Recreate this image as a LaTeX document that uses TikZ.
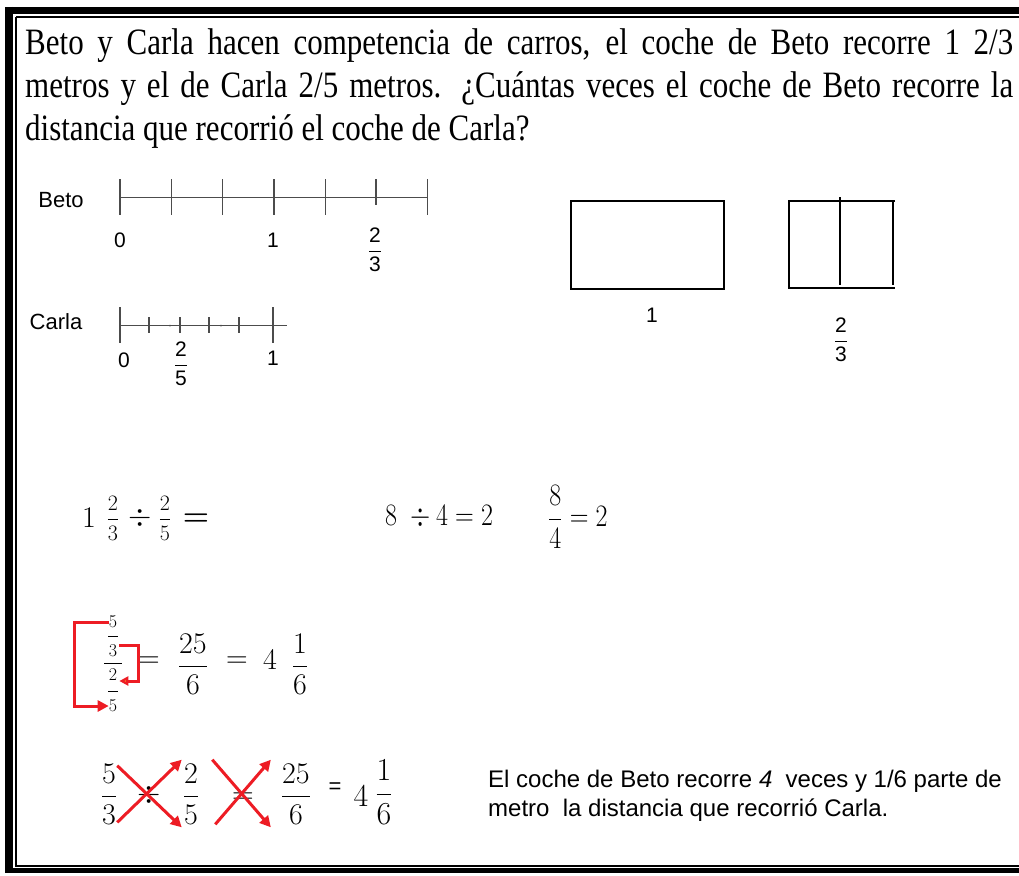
\documentclass[tikz,border=0pt]{standalone}
\usepackage{fix-cm}
\usepackage{amsmath}
\usepackage{fontspec}
\setmainfont{Liberation Serif}
\setsansfont{Liberation Sans}
\usetikzlibrary{arrows.meta}
\definecolor{penred}{RGB}{237,28,36}
\definecolor{penorange}{RGB}{247,148,30}
\newcommand{\vstretch}[1]{\scalebox{1}[1.2]{#1}}
\tikzset{
  titleline/.style={anchor=base west, inner sep=0pt, font=\fontsize{31}{36}\selectfont},
  lbl/.style={inner sep=0pt, font=\sffamily\fontsize{22}{26}\selectfont},
  num/.style={inner sep=0pt, font=\sffamily\fontsize{21}{24}\selectfont},
  eq/.style={inner sep=0pt, font=\fontsize{26}{30}\selectfont},
  big/.style={inner sep=0pt, font=\fontsize{30}{34}\selectfont},
  mid/.style={inner sep=0pt, font=\fontsize{22}{26}\selectfont},
  small/.style={inner sep=0pt, font=\fontsize{18}{20}\selectfont},
  redpen/.style={penred, line width=3pt, -{Triangle[length=11pt,width=11pt]}},
}
\begin{document}
\begin{tikzpicture}[x=1pt,y=-1pt]
  \useasboundingbox (0,0) rectangle (1019,875);

  % frame
  \draw[line width=7pt] (5,10.5) -- (1019,10.5);
  \draw[line width=8pt] (9,7) -- (9,873);
  \draw[line width=2pt] (16,17.5) -- (1019,17.5);
  \draw[line width=2pt] (16,17.5) -- (16,865.5) -- (1019,865.5);
  \draw[line width=5pt] (5,870.5) -- (1019,870.5);

  % problem
  \node[titleline] (l1) at (25,55) {\vstretch{\makebox[988pt][s]{Beto y Carla hacen competencia de carros, el coche de Beto recorre 1 2/3}}};
  \node[titleline] (l2) at (25,97) {\vstretch{\makebox[988pt][s]{metros y el de Carla 2/5 metros. ¿Cuántas veces el coche de Beto recorre la}}};
  \node[titleline] (l3) at (25,140) {\vstretch{distancia que recorrió el coche de Carla?}};

  % number lines
  \node[lbl] (beto) at (61,200) {Beto};
  \draw[gray!60!black, line width=1pt] (120,197) -- (428,197);
  \foreach \k in {0,...,4,6}
    \draw[gray!60!black, line width=1.3pt] (120+51.3*\k,179) -- ++(0,36);
  \draw[gray!60!black, line width=1.3pt] (376,179) -- (376,205);
  \node[num] (b0) at (120,240) {0};
  \node[num] (b1) at (273,240) {1};
  \node[num] (b23) at (375,250) {$\dfrac{\textsf{2}}{\textsf{3}}$};

  \node[lbl] (carla) at (56,322) {Carla};
  \draw[gray!60!black, line width=1pt] (120,325) -- (287,325);
  \foreach \x in {120,273}
    \draw[gray!60!black, line width=1.3pt] (\x,307) -- (\x,343);
  \foreach \x in {149,180,209,239}
    \draw[gray!60!black, line width=1.2pt] (\x,317) -- (\x,333);
  \foreach \x in {170,221}
    \fill[gray!60!black] (\x,325.5) circle (1pt);
  \node[num] (c0) at (124,360) {0};
  \node[num] (c25) at (181,364) {$\dfrac{\textsf{2}}{\textsf{5}}$};
  \node[num] (c1) at (273,358) {1};

  % unit and two thirds
  \draw[line width=1.6pt] (571,201) rectangle (724,289);
  \node[num] (one) at (652,315) {1};
  \draw[line width=1.6pt] (895,201) -- (789,201) -- (789,288) -- (895,288);
  \draw[line width=1.6pt] (840,197) -- (840,285);
  \draw[line width=1.6pt] (893,201) -- (893,285);
  \node[num] (two3) at (841,340) {$\dfrac{\textsf{2}}{\textsf{3}}$};

  % division
  \node[big] (da1) at (89,518) {$1$};
  \node[mid] (da23) at (113,518) {$\dfrac{2}{3}$};
  \node[big] (dadiv) at (140,518) {$\div$};
  \node[mid] (da25) at (165,518) {$\dfrac{2}{5}$};
  \node[big] (daeq) at (196,520) {$\boldsymbol{=}$};
  \node[eq, anchor=west] (divB) at (385,517) {\vstretch{$8\;\div 4 = 2$}};
  \node[eq, anchor=west] (divC) at (548,517) {\vstretch{$\dfrac{8}{4} = 2$}};

  % complex fraction
  \node[small] (n5) at (113,622) {$5$};
  \node[small] (n3) at (113,651) {$3$};
  \node[small] (d2) at (113,675) {$2$};
  \node[small] (d5) at (113,706) {$5$};
  \draw[line width=1pt] (108,636) -- (118,636);
  \draw[line width=1pt] (104,663) -- (122,663);
  \draw[line width=1pt] (108,691) -- (118,691);
  \node[big] (eqA) at (149,662) {$=$};
  \node[big] (r256) at (193,664) {$\dfrac{25}{6}$};
  \node[big] (eqA2) at (237,662) {$=$};
  \node[big] (r4) at (270,660) {$4$};
  \node[big] (r16) at (300,664) {$\dfrac{1}{6}$};
  \draw[redpen] (n5.west) -- ++(-34,0) |- (d5.west);
  \draw[redpen, -{Triangle[length=9pt,width=9pt,fill=penorange]}] ([xshift=2pt]n3.north east) -- ++(19,0) |- ([xshift=2pt]d2.south east);

  % cross multiplication
  \node[big] (f53) at (109,794) {$\dfrac{5}{3}$};
  \node[big] (dv) at (149,795) {$\div$};
  \node[big] (f25) at (191,794) {$\dfrac{2}{5}$};
  \node[big] (eqB) at (243,798) {$=$};
  \node[big] (f256) at (296,794) {$\dfrac{25}{6}$};
  \node[lbl] (eqC) at (335,788) {=};
  \node[big, font=\fontsize{32}{36}\selectfont] (m4) at (361,796) {$4$};
  \node[big, font=\fontsize{32}{36}\selectfont] (m16) at (384,792) {$\dfrac{1}{6}$};
  \draw[redpen] ([yshift=-2pt]f53.north east) -- ([xshift=-1pt,yshift=-3pt]f25.south west);
  \draw[redpen] ([yshift=2pt]f53.south east) -- ([xshift=-1pt,yshift=4pt]f25.north west);
  \draw[redpen] ([xshift=13pt,yshift=4pt]f25.north east) -- ([xshift=-10pt,yshift=-3pt]f256.south west);
  \draw[redpen] ([xshift=16pt,yshift=0pt]f25.south east) -- ([xshift=-10pt,yshift=4pt]f256.north west);

  \node[lbl, anchor=north west, align=left, font=\sffamily\fontsize{24}{29}\selectfont] (answer) at (488,770)
    {El coche de Beto recorre \textit{4}\ \ veces y 1/6 parte de\\metro\ \ la distancia que recorrió Carla.};
\end{tikzpicture}
\end{document}
